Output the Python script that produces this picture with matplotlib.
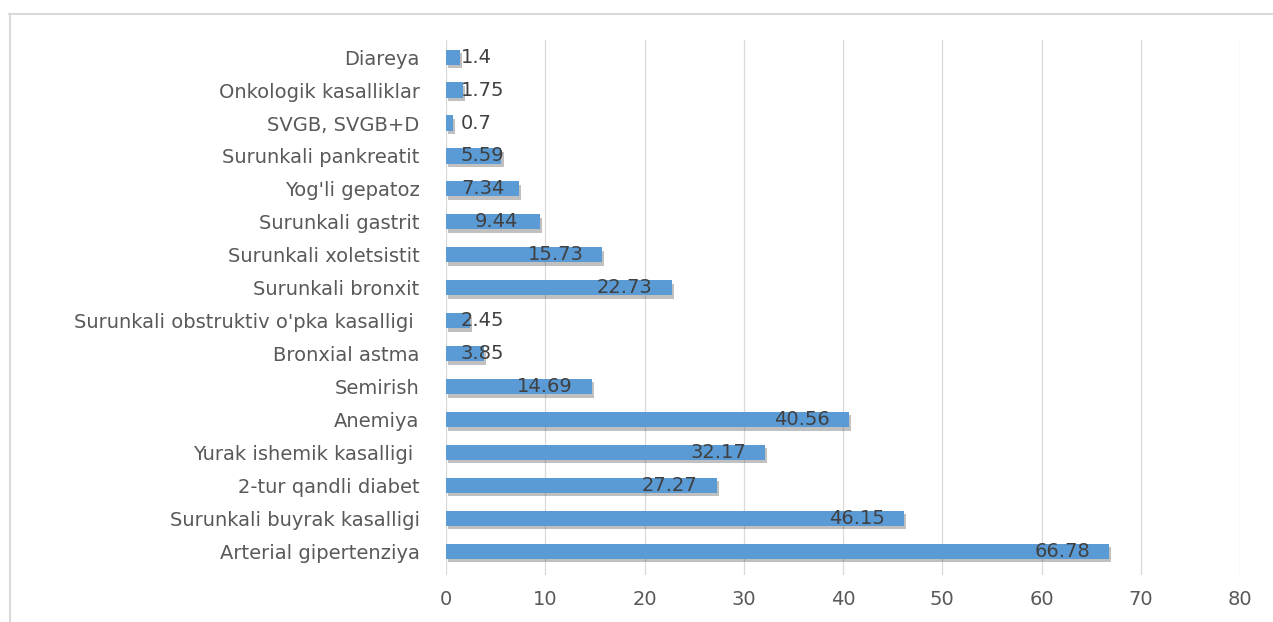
import matplotlib.pyplot as plt
import matplotlib.patheffects as pe
from matplotlib.lines import Line2D

# categories bottom -> top (as drawn)
categories = [
    "Arterial gipertenziya",
    "Surunkali buyrak kasalligi",
    "2-tur qandli diabet",
    "Yurak ishemik kasalligi ",
    "Anemiya",
    "Semirish",
    "Bronxial astma",
    "Surunkali obstruktiv o'pka kasalligi ",
    "Surunkali bronxit",
    "Surunkali xoletsistit",
    "Surunkali gastrit",
    "Yog'li gepatoz",
    "Surunkali pankreatit",
    "SVGB, SVGB+D",
    "Onkologik kasalliklar",
    "Diareya",
]
values = [66.78, 46.15, 27.27, 32.17, 40.56, 14.69, 3.85, 2.45,
          22.73, 15.73, 9.44, 7.34, 5.59, 0.7, 1.75, 1.4]
value_labels = ["66.78", "46.15", "27.27", "32.17", "40.56", "14.69", "3.85", "2.45",
                "22.73", "15.73", "9.44", "7.34", "5.59", "0.7", "1.75", "1.4"]

plt.rcParams['font.family'] = ['DejaVu Sans']

W, H = 1273, 622
fig = plt.figure(figsize=(W / 100, H / 100), dpi=100)
ax = fig.add_axes([446 / W, 1 - 575 / H, (1240 - 446) / W, (575 - 40) / H])

bar_color = '#5B9BD5'
shadow = [pe.SimplePatchShadow(offset=(1.5, -2.5), shadow_rgbFace='#303030', alpha=0.3),
          pe.Normal()]
ypos = list(range(len(categories)))
bars = ax.barh(ypos, values, height=0.46, color=bar_color, zorder=3)
for b in bars:
    b.set_path_effects(shadow)

fs = 14
for y, v, lab in zip(ypos, values, value_labels):
    if v < 12:
        ax.text(max(1.5, v - 6.5), y, lab, ha='left', va='center',
                fontsize=fs, color='#404040', zorder=4)
    else:
        ax.text(v - 1.9, y, lab, ha='right', va='center',
                fontsize=fs, color='#404040', zorder=4)

ax.set_xlim(0, 80)
ax.set_ylim(-0.72, 15.52)
ax.set_xticks(range(0, 81, 10))
ax.set_yticks(ypos)
ax.set_yticklabels(categories)
ax.grid(axis='x', color='#D9D9D9', linewidth=0.9, zorder=0)
ax.set_axisbelow(True)
for s in ax.spines.values():
    s.set_visible(False)
ax.tick_params(axis='both', length=0, labelsize=fs, labelcolor='#595959')
ax.tick_params(axis='x', pad=11)
ax.tick_params(axis='y', pad=19)

# chart area outline (only top and left visible in the crop)
fig.add_artist(Line2D([9 / W, 1], [1 - 14 / H, 1 - 14 / H], color='#D9D9D9', lw=1.5,
                      transform=fig.transFigure))
fig.add_artist(Line2D([10 / W, 10 / W], [0, 1 - 14 / H], color='#D9D9D9', lw=1.5,
                      transform=fig.transFigure))

fig.savefig('out.png', dpi=100, facecolor='white')
